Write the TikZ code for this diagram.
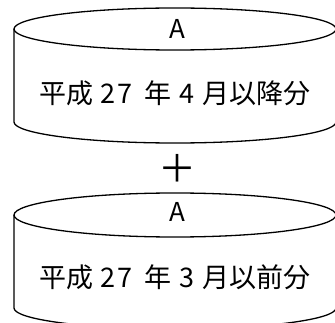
\documentclass[tikz,border=0pt]{standalone}
\usepackage{fontspec}
\newfontfamily\jp{Noto Sans CJK JP}
\tikzset{
  cyl/.style={line width=1.3pt, black},
  lbl/.style={inner sep=0pt, font=\jp\fontsize{27}{30}\selectfont},
  toplbl/.style={inner sep=0pt, font=\jp\fontsize{26}{28}\selectfont},
  pluslbl/.style={inner sep=0pt, font=\jp\fontsize{38}{40}\selectfont},
}
\begin{document}
\begin{tikzpicture}[x=1pt,y=1pt]
\useasboundingbox (0,0) rectangle (335,322);
\clip (0,0) rectangle (335,322);
% upper cylinder
\draw[cyl] (175,293) ellipse [x radius=161, y radius=21];
\draw[cyl] (14,293) -- (14,200) arc[start angle=180, end angle=360, x radius=161, y radius=21] -- (336,293);
% lower cylinder
\draw[cyl] (175,107) ellipse [x radius=161, y radius=22];
\draw[cyl] (14,107) -- (14,14) arc[start angle=180, end angle=360, x radius=161, y radius=21] -- (336,107);
% labels
\node[toplbl] (a1) at (177,293.5) {A};
\node[lbl] (t1) at (175,228.5) {平成\hspace{7pt}2\hspace{3pt}7\hspace{12pt}年\hspace{8pt}4\hspace{8pt}月以降分};
\node[pluslbl] (plus) at (177,154) {＋};
\node[toplbl] (a2) at (177,110) {A};
\node[lbl] (t2) at (175,44.5) {平成\hspace{7pt}2\hspace{3pt}7\hspace{12pt}年\hspace{8pt}3\hspace{8pt}月以前分};
\end{tikzpicture}
\end{document}
